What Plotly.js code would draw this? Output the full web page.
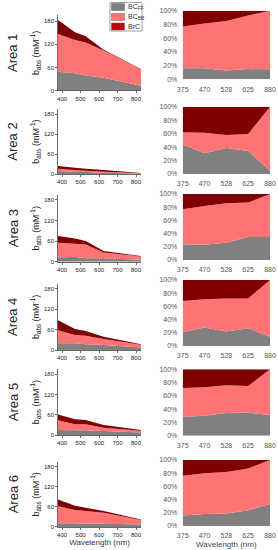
<!DOCTYPE html>
<html>
<head>
<meta charset="utf-8">
<script src="https://cdn.plot.ly/plotly-3.0.1.min.js"></script>
<style>html,body{margin:0;padding:0;background:#fff;}#chart{width:278px;height:550px;}</style>
</head>
<body>
<div id="chart"></div>
<script>
// ---- data ----
const wavelengths = [375, 470, 528, 625, 880];
const wavelengthLabels = ['375', '470', '528', '625', '880'];
const areaNames = ['Area 1', 'Area 2', 'Area 3', 'Area 4', 'Area 5', 'Area 6'];
const seriesNames = ['BC<sub>FF</sub>', 'BC<sub>BB</sub>', 'BrC'];

// absolute b_abs (Mm^-1) per area, left panels
const bcFF_abs = [
  [49, 45, 39, 33, 7],
  [9, 6, 6, 4, 0.3],
  [12, 14.5, 10, 10, 5],
  [20, 20, 17, 15, 5],
  [15, 14, 14, 12, 6],
  [11, 11, 10, 10, 7]
];
const bcBB_abs = [
  [98, 86, 86, 71, 35],
  [7, 6, 4, 3, 0.5],
  [43, 38, 40.5, 17, 7],
  [39, 24, 25, 17.5, 6],
  [29.5, 17.6, 17.6, 9.8, 4],
  [51.6, 39.7, 37.7, 32.7, 8]
];
const brc_abs = [
  [37, 20, 16, 2, 1],
  [8, 7, 6, 5, 0],
  [20, 15.5, 9.5, 4, 0.5],
  [29.5, 18, 14, 6.5, 0.5],
  [16.5, 15, 13, 8, 0.5],
  [20, 13, 10, 5, 1]
];

// relative contributions (%) per area, right panels
const bcFF_pct = [
  [16, 16, 13, 15, 14.5],
  [44, 31, 38.6, 34, 5],
  [24, 23, 26, 35, 35],
  [21, 28, 22, 27, 14],
  [28.6, 30, 34, 35, 31],
  [16, 18, 19, 24, 33]
];
const bcBB_pct = [
  [61, 65.5, 72, 78, 85.5],
  [18, 30.4, 19.4, 25.4, 95],
  [53, 59, 60, 52, 65],
  [47, 43, 50, 45, 86],
  [43.4, 43, 42, 40, 69],
  [60, 62, 63, 63, 67]
];
const brc_pct = [
  [23, 18.5, 15, 7, 0],
  [38, 38.6, 42, 40.6, 0],
  [23, 18, 14, 13, 0],
  [32, 29, 28, 28, 0],
  [28, 27, 24, 25, 0],
  [24, 20, 18, 13, 0]
];

const leftYTicks = [0, 60, 120, 180];
const leftXTicks = [400, 500, 600, 700, 800];
const rightYTicks = [0, 20, 40, 60, 80, 100];
const rightYTickLabels = ['0%', '20%', '40%', '60%', '80%', '100%'];

// ---- layout geometry (px) ----
const W = 278, H = 550;
const colors = ['#808080', '#ff7373', '#7f0000'];
const legendColors = ['#808080', '#ff7373', '#c00000'];
const FONT = 'Liberation Sans, Arial, sans-serif';
function xd(a, b) { return [a / W, b / W]; }
function yd(top, bottom) { return [1 - bottom / H, 1 - top / H]; }

const leftX = [58, 141];
const leftYmax = 195;
const leftGeo = [ // [zero px, px per unit]
  [90.5, 0.385], [174, 0.332], [261.7, 0.343], [350, 0.339], [435, 0.337], [527, 0.335]
];
const rightX = [182.7, 270];
const rightGeo = [ // [100% px, 0% px]
  [10.7, 79.3], [106.7, 174], [194, 260], [280, 346], [369.3, 435.7], [460, 526]
];

const traces = [];
const layout = {
  width: W, height: H,
  margin: {l: 0, r: 0, t: 0, b: 0},
  paper_bgcolor: '#fff', plot_bgcolor: '#fff',
  showlegend: false,
  font: {family: FONT, size: 7, color: '#333'},
  shapes: [], annotations: []
};

const absSets = [bcFF_abs, bcBB_abs, brc_abs];
const pctSets = [bcFF_pct, bcBB_pct, brc_pct];

for (let i = 0; i < 6; i++) {
  const li = 2 * i + 1, ri = 2 * i + 2;
  const lx = 'x' + li, ly = 'y' + li, rx = 'x' + ri, ry = 'y' + ri;
  for (let s = 0; s < 3; s++) {
    traces.push({
      type: 'scatter', x: wavelengths, y: absSets[s][i], xaxis: lx, yaxis: ly,
      stackgroup: 'L' + i, mode: 'none', fillcolor: colors[s], name: seriesNames[s],
      hoverinfo: 'skip'
    });
    traces.push({
      type: 'scatter', x: wavelengthLabels, y: pctSets[s][i], xaxis: rx, yaxis: ry,
      stackgroup: 'R' + i, groupnorm: 'percent', mode: 'none', fillcolor: colors[s], name: seriesNames[s],
      hoverinfo: 'skip'
    });
  }
  const [z, ppu] = leftGeo[i];
  const top = z - leftYmax * ppu;
  const isLast = i === 5;
  const lxAxis = {
    domain: xd(leftX[0], leftX[1]), anchor: ly, range: [378, 827],
    tickvals: leftXTicks, ticks: 'outside', ticklen: 2, tickwidth: 0.8, tickcolor: '#444',
    showline: true, linecolor: '#444', linewidth: 0.8, showgrid: false, zeroline: false,
    tickfont: {size: 6, color: '#222', family: FONT}
  };
  if (isLast) lxAxis.title = {text: 'Wavelength (nm)', font: {size: 8, color: '#333', family: FONT}, standoff: 1};
  layout['xaxis' + li] = lxAxis;
  layout['yaxis' + li] = {
    domain: yd(top, z), anchor: lx, range: [0, leftYmax],
    tickvals: leftYTicks, ticks: 'outside', ticklen: 2, tickwidth: 0.8, tickcolor: '#444',
    showline: true, linecolor: '#444', linewidth: 0.8, showgrid: false, zeroline: false,
    tickfont: {size: 6, color: '#222', family: FONT},
    title: {text: 'b<sub>abs</sub> (mM<sup>-1</sup>)', font: {size: 9, color: '#222', family: FONT}, standoff: 2}
  };
  const [t100, z0] = rightGeo[i];
  const rxAxis = {
    domain: xd(rightX[0], rightX[1]), anchor: ry, type: 'category', range: [0, 4],
    showline: false, showgrid: false, zeroline: false,
    ticks: 'outside', ticklen: 3, tickcolor: 'rgba(0,0,0,0)',
    tickfont: {size: 7, color: '#555', family: FONT}
  };
  if (isLast) rxAxis.title = {text: 'Wavelength (nm)', font: {size: 8, color: '#444', family: FONT}, standoff: 2};
  layout['xaxis' + ri] = rxAxis;
  layout['yaxis' + ri] = {
    domain: yd(t100, z0), anchor: rx, range: [0, 100],
    tickvals: rightYTicks, ticktext: rightYTickLabels,
    showline: false, showgrid: false, zeroline: false,
    ticks: 'outside', ticklen: 3, tickcolor: 'rgba(0,0,0,0)',
    tickfont: {size: 7, color: '#555', family: FONT}
  };
  layout.annotations.push({
    xref: 'paper', yref: 'paper', x: 13 / W, y: 1 - ((top + z) / 2) / H,
    text: areaNames[i], textangle: -90, showarrow: false,
    font: {size: 13, color: '#222', family: FONT}, xanchor: 'center', yanchor: 'middle'
  });
}

// legend box drawn with shapes + text
layout.shapes.push({type: 'rect', xref: 'paper', yref: 'paper',
  x0: 110 / W, x1: 142 / W, y0: 1 - 31 / H, y1: 1 - 2.5 / H,
  line: {color: '#888', width: 0.8}, fillcolor: '#fff'});
const legRows = [[3.5, 10.5], [13.5, 20.5], [23, 30]];
for (let s = 0; s < 3; s++) {
  const [a, b] = legRows[s];
  layout.shapes.push({type: 'rect', xref: 'paper', yref: 'paper',
    x0: 111.5 / W, x1: 124.5 / W, y0: 1 - b / H, y1: 1 - a / H,
    line: {color: '#666', width: 0.5}, fillcolor: legendColors[s]});
  layout.annotations.push({xref: 'paper', yref: 'paper', x: 125.5 / W, y: 1 - ((a + b) / 2) / H,
    text: seriesNames[s], showarrow: false, xanchor: 'left', yanchor: 'middle',
    font: {size: 7, color: '#333', family: FONT}});
}

Plotly.newPlot('chart', traces, layout, {staticPlot: true, displayModeBar: false});
</script>
</body>
</html>
